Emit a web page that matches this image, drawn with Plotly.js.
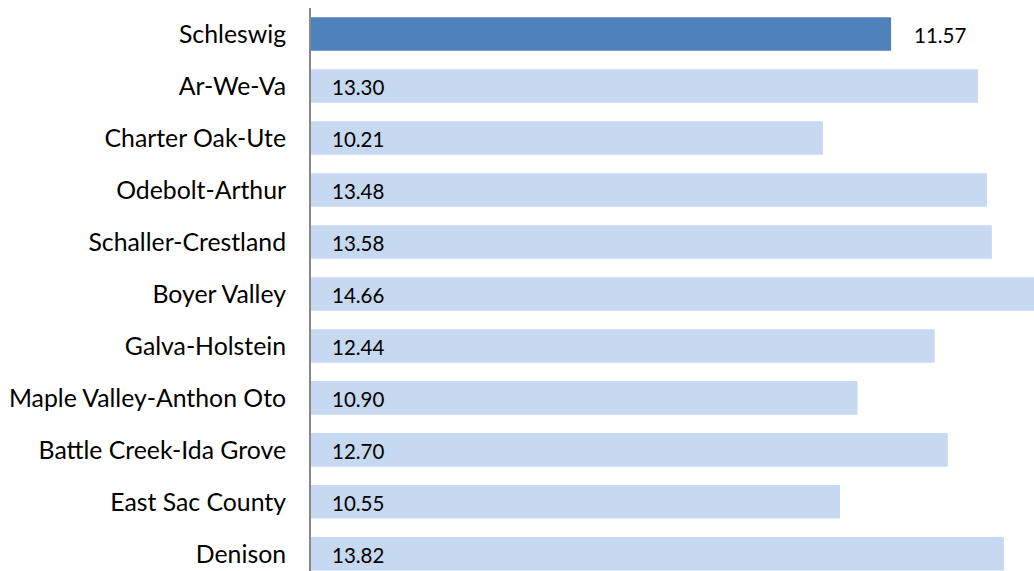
<!DOCTYPE html>
<html>
<head>
<meta charset="utf-8">
<script src="https://cdn.plot.ly/plotly-3.0.1.min.js"></script>
<style>html,body{margin:0;padding:0;background:#fff;}#chart{width:1034px;height:571px;}</style>
</head>
<body>
<div id="chart"></div>
<script>
const districts = ["Schleswig","Ar-We-Va","Charter Oak-Ute","Odebolt-Arthur","Schaller-Crestland","Boyer Valley","Galva-Holstein","Maple Valley-Anthon Oto","Battle Creek-Ida Grove","East Sac County","Denison"];
const values = [11.57,13.30,10.21,13.48,13.58,14.66,12.44,10.90,12.70,10.55,13.82];
const highlight = "Schleswig";

const colors = districts.map(d => d === highlight ? "#4F81BD" : "#C6D9F1");
const FONT = "Lato, 'Liberation Sans', sans-serif";

const annotations = districts.map((d, i) => {
  const isHi = d === highlight;
  return {
    x: isHi ? values[i] : 0,
    y: d,
    xref: "x", yref: "y",
    text: values[i].toFixed(2),
    showarrow: false,
    xanchor: "left",
    yanchor: "middle",
    xshift: isHi ? 21 : 19,
    yshift: -1,
    font: {family: FONT, size: 20.5, color: "#000"}
  };
});

const trace = {
  type: "bar",
  orientation: "h",
  y: districts,
  x: values,
  marker: {color: colors},
  width: 0.645,
  hoverinfo: "skip",
  cliponaxis: true
};

const layout = {
  width: 1034, height: 571,
  margin: {l: 311, r: 0, t: 8, b: 0, pad: 0},
  paper_bgcolor: "#fff", plot_bgcolor: "#fff",
  showlegend: false,
  font: {family: FONT, size: 20, color: "#000"},
  xaxis: {range: [0, 14.42], showgrid: false, zeroline: false, showticklabels: false, showline: false, ticks: ""},
  yaxis: {
    type: "category",
    range: [10.33, -0.5],
    showgrid: false, zeroline: false,
    showline: true, linecolor: "#888", linewidth: 2,
    ticks: "", ticklabelstandoff: 18,
    tickfont: {family: FONT, size: 24.8, color: "#000"}
  },
  annotations: annotations
};

Plotly.newPlot("chart", [trace], layout, {displayModeBar: false, staticPlot: true});
</script>
</body>
</html>
